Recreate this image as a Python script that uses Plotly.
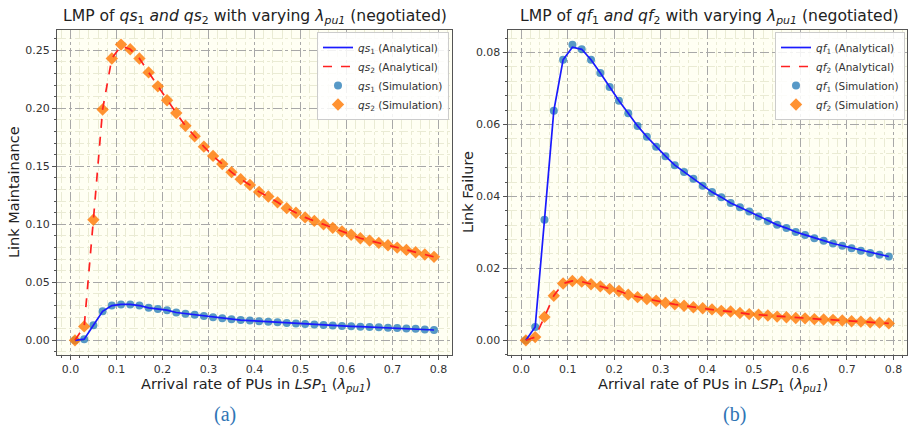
import plotly.graph_objects as go

x = [round(0.01 + 0.02 * i, 2) for i in range(40)]

qs1_ana = [0.000, 0.001, 0.013, 0.025, 0.030, 0.031, 0.031, 0.030, 0.028, 0.027,
           0.026, 0.024, 0.023, 0.022, 0.021, 0.020, 0.019, 0.0182, 0.0175, 0.017,
           0.0165, 0.016, 0.0155, 0.015, 0.0145, 0.014, 0.0136, 0.0132, 0.0128, 0.0124,
           0.0121, 0.0118, 0.0115, 0.0112, 0.0109, 0.0106, 0.0103, 0.0099, 0.0094, 0.0089]
qs2_ana = [0.000, 0.012, 0.104, 0.199, 0.243, 0.254, 0.251, 0.243, 0.231, 0.219,
           0.207, 0.196, 0.185, 0.176, 0.167, 0.159, 0.152, 0.145, 0.139, 0.134,
           0.128, 0.124, 0.119, 0.114, 0.110, 0.106, 0.103, 0.100, 0.097, 0.094,
           0.091, 0.088, 0.086, 0.084, 0.082, 0.080, 0.078, 0.076, 0.074, 0.072]
qs1_sim = list(qs1_ana)
qs2_sim = list(qs2_ana)
qs2_sim[5] = 0.255

qf1_ana = [0.0000, 0.0037, 0.0335, 0.0638, 0.0780, 0.0815, 0.0809, 0.0780, 0.0743, 0.0704,
           0.0666, 0.0631, 0.0596, 0.0566, 0.0538, 0.0512, 0.0487, 0.0468, 0.0449, 0.0430,
           0.0412, 0.0398, 0.0382, 0.0370, 0.0358, 0.0344, 0.0332, 0.0321, 0.0312, 0.0301,
           0.0293, 0.0284, 0.0277, 0.0269, 0.0263, 0.0256, 0.0249, 0.0243, 0.0238, 0.0233]
qf2_ana = [0.0000, 0.0009, 0.0065, 0.0124, 0.0158, 0.0165, 0.0163, 0.0156, 0.0150, 0.0143,
           0.0137, 0.0127, 0.0120, 0.0115, 0.0110, 0.0104, 0.0100, 0.0096, 0.0092, 0.0089,
           0.0086, 0.0082, 0.0080, 0.0076, 0.0073, 0.0071, 0.0069, 0.0066, 0.0064, 0.0062,
           0.0061, 0.0059, 0.0058, 0.0057, 0.0055, 0.0053, 0.0052, 0.0050, 0.0049, 0.0047]
qf1_sim = list(qf1_ana)
qf1_sim[5] = 0.0822
qf2_sim = list(qf2_ana)

x_ticks = [0.0, 0.1, 0.2, 0.3, 0.4, 0.5, 0.6, 0.7, 0.8]

FONT = "DejaVu Sans"
BG = "#fffff3"
MINOR = "#eaebd4"
MAJOR = "#a8a8a8"
FRAME = "#555555"

fig = go.Figure()

def add_panel(xa, ya, leg, n1, n2, s1, s2, a1, a2):
    fig.add_trace(go.Scatter(x=x, y=s1, mode="markers", name="<i>%s</i><sub>1</sub> (Simulation)" % n1,
                             marker=dict(symbol="circle", size=8, color="#1f77b4", opacity=0.75),
                             xaxis=xa, yaxis=ya, legend=leg, legendrank=3))
    fig.add_trace(go.Scatter(x=x, y=s2, mode="markers", name="<i>%s</i><sub>2</sub> (Simulation)" % n2,
                             marker=dict(symbol="diamond", size=9.5, color="#ff7f0e", opacity=0.85),
                             xaxis=xa, yaxis=ya, legend=leg, legendrank=4))
    fig.add_trace(go.Scatter(x=x, y=a1, mode="lines", name="<i>%s</i><sub>1</sub> (Analytical)" % n1,
                             line=dict(color="#1a1aff", width=1.7),
                             xaxis=xa, yaxis=ya, legend=leg, legendrank=1))
    fig.add_trace(go.Scatter(x=x, y=a2, mode="lines", name="<i>%s</i><sub>2</sub> (Analytical)" % n2,
                             line=dict(color="#ff2020", width=1.7, dash="dash"),
                             xaxis=xa, yaxis=ya, legend=leg, legendrank=2))

add_panel("x", "y", "legend", "qs", "qs", qs1_sim, qs2_sim, qs1_ana, qs2_ana)
add_panel("x2", "y2", "legend2", "qf", "qf", qf1_sim, qf2_sim, qf1_ana, qf2_ana)

def xaxis(dom, anchor):
    return dict(domain=dom, anchor=anchor, range=[-0.029, 0.829], tickvals=x_ticks,
                tickformat=".1f", showgrid=True, gridcolor=MAJOR, griddash="dashdot", gridwidth=1.2,
                zeroline=False, showline=True, linecolor=FRAME, linewidth=1.3, mirror=True,
                ticks="outside", ticklen=4, tickcolor=FRAME,
                tickfont=dict(family=FONT, size=11, color="#333333"),
                minor=dict(dtick=0.02, tick0=0, showgrid=True, gridcolor=MINOR, gridwidth=1,
                           ticks="outside", ticklen=2, tickcolor=FRAME))

def yaxis(anchor, rng, dtick, mdtick):
    return dict(domain=[0.18, 0.931], anchor=anchor, range=rng, dtick=dtick, tick0=0,
                tickformat=".2f", showgrid=True, gridcolor=MAJOR, griddash="dashdot", gridwidth=1.2,
                zeroline=False, showline=True, linecolor=FRAME, linewidth=1.3, mirror=True,
                ticks="outside", ticklen=4, tickcolor=FRAME,
                tickfont=dict(family=FONT, size=11, color="#333333"),
                minor=dict(dtick=mdtick, tick0=0, showgrid=True, gridcolor=MINOR, gridwidth=1,
                           ticks="outside", ticklen=2, tickcolor=FRAME))

legend_style = dict(bgcolor="rgba(255,255,255,0.85)", bordercolor="#cccccc", borderwidth=1,
                    font=dict(family=FONT, size=10.5, color="#333333"),
                    xanchor="right", yanchor="top", tracegroupgap=0, itemwidth=30)

W, H = 914, 433
def px(v):
    return v / W
def py(v):
    return 1 - v / H

fig.update_layout(
    width=W, height=H, margin=dict(l=0, r=0, t=0, b=0),
    paper_bgcolor="white", plot_bgcolor=BG,
    font=dict(family=FONT, color="#222222"),
    xaxis=xaxis([0.0624, 0.4945], "y"),
    yaxis=yaxis("x", [-0.0127, 0.2677], 0.05, 0.01),
    xaxis2=xaxis([0.5555, 0.9923], "y2"),
    yaxis2=yaxis("x2", [-0.0041, 0.0863], 0.02, 0.004),
    legend=dict(x=px(449), y=py(32), **legend_style),
    legend2=dict(x=px(905), y=py(32), **legend_style),
    showlegend=True,
)

ann = [
    dict(x=px(255), y=py(17), text="LMP of <i>qs</i><sub>1</sub> <i>and qs</i><sub>2</sub> with varying <i>λ<sub>pu1</sub></i> (negotiated)",
         font=dict(size=15.6)),
    dict(x=px(709), y=py(17), text="LMP of <i>qf</i><sub>1</sub> <i>and qf</i><sub>2</sub> with varying <i>λ<sub>pu1</sub></i> (negotiated)",
         font=dict(size=15.6)),
    dict(x=px(256), y=py(385), text="Arrival rate of PUs in <i>LSP</i><sub>1</sub> (<i>λ<sub>pu1</sub></i>)",
         font=dict(size=14.5)),
    dict(x=px(713), y=py(385), text="Arrival rate of PUs in <i>LSP</i><sub>1</sub> (<i>λ<sub>pu1</sub></i>)",
         font=dict(size=14.5)),
    dict(x=px(14), y=py(192), text="Link Maintainance", textangle=-90, font=dict(size=14.5)),
    dict(x=px(468), y=py(192), text="Link Failure", textangle=-90, font=dict(size=14.5)),
    dict(x=px(225), y=py(414), text="(a)", font=dict(family="Liberation Serif", size=20, color="#2f75b5")),
    dict(x=px(734), y=py(414), text="(b)", font=dict(family="Liberation Serif", size=20, color="#2f75b5")),
]
for a in ann:
    a.update(xref="paper", yref="paper", showarrow=False, xanchor="center", yanchor="middle")
    f = dict(family=FONT, color="#222222")
    f.update(a["font"])
    a["font"] = f
    fig.add_annotation(**a)

fig.write_html("out.html", config={"displayModeBar": False},
               post_script="document.body.style.margin='0px';")
